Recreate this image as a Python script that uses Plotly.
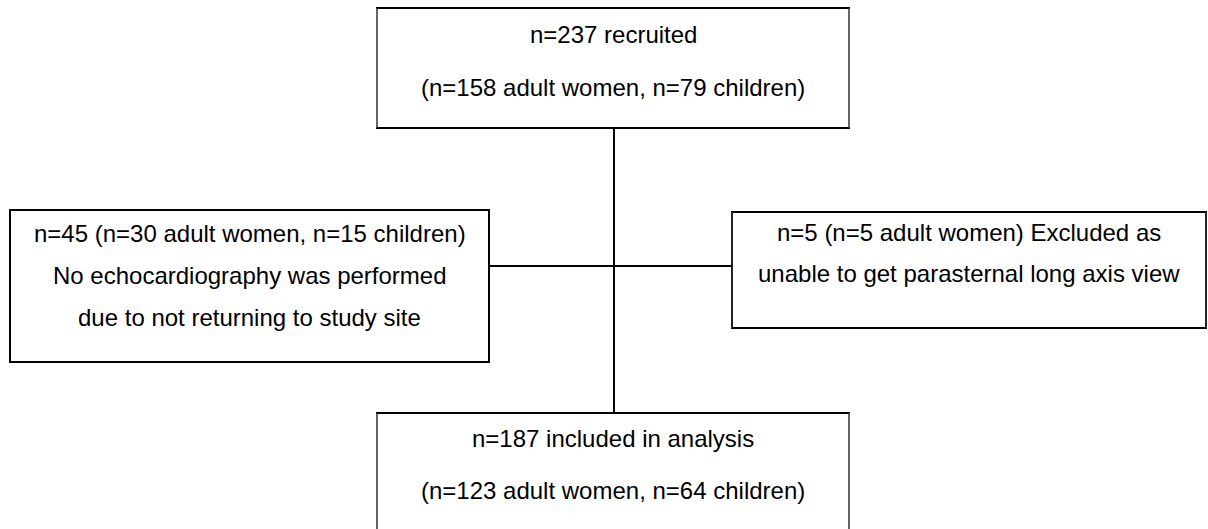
import plotly.graph_objects as go

# Flowchart content
box_names = ["recruited", "no_echo", "excluded", "included"]
box_lines = [
    ["n=237 recruited", "(n=158 adult women, n=79 children)"],
    ["n=45 (n=30 adult women, n=15 children)",
     "No echocardiography was performed",
     "due to not returning to study site"],
    ["n=5 (n=5 adult women) Excluded as",
     "unable to get parasternal long axis view"],
    ["n=187 included in analysis", "(n=123 adult women, n=64 children)"],
]

# Layout geometry (pixel space, y down)
W, H = 1208, 529
box_x0 = [377, 10, 732, 377]
box_x1 = [849, 489, 1206, 849]
box_y0 = [8, 210, 212, 413]
box_y1 = [128, 362, 328, 540]
side_color = ["#333333", "black", "#222222", "#333333"]
side_width = [1.5, 2, 2, 1.5]
line_y = [[34, 87], [233, 275, 317], [232, 273], [438, 490]]

fig = go.Figure()
fig.add_trace(go.Scatter(x=[0, W], y=[0, H], mode="markers",
                         marker=dict(opacity=0), hoverinfo="skip", showlegend=False))

shapes = []
for i in range(len(box_names)):
    x0, x1, y0, y1 = box_x0[i], box_x1[i], box_y0[i], box_y1[i]
    # horizontal edges
    for yy in (y0, y1):
        shapes.append(dict(type="line", xref="x", yref="y", x0=x0 - 1, x1=x1 + 1,
                           y0=yy, y1=yy, line=dict(color="black", width=2)))
    # vertical edges
    for xx in (x0, x1):
        shapes.append(dict(type="line", xref="x", yref="y", x0=xx, x1=xx,
                           y0=y0, y1=y1,
                           line=dict(color=side_color[i], width=side_width[i])))
    cx = (x0 + x1) / 2
    for txt, yy in zip(box_lines[i], line_y[i]):
        fig.add_annotation(x=cx, y=yy, xref="x", yref="y", text=txt, showarrow=False,
                           xanchor="center", yanchor="middle",
                           font=dict(family="Liberation Sans, Arial, sans-serif",
                                     size=24, color="black"))

# connectors
vx = 614
shapes.append(dict(type="line", xref="x", yref="y", x0=vx, x1=vx,
                   y0=box_y1[0], y1=box_y0[3], line=dict(color="black", width=2)))
hy = 266
shapes.append(dict(type="line", xref="x", yref="y", x0=box_x1[1], x1=box_x0[2],
                   y0=hy, y1=hy, line=dict(color="black", width=2)))

fig.update_layout(
    width=W, height=H, autosize=False,
    margin=dict(l=0, r=0, t=0, b=0),
    paper_bgcolor="white", plot_bgcolor="white",
    shapes=shapes,
    xaxis=dict(range=[0, W], visible=False, fixedrange=True),
    yaxis=dict(range=[H, 0], visible=False, fixedrange=True),
    showlegend=False,
)
fig.write_html("out.html", config={"displayModeBar": False},
               post_script="document.body.style.margin='0px';document.body.style.overflow='hidden';")
